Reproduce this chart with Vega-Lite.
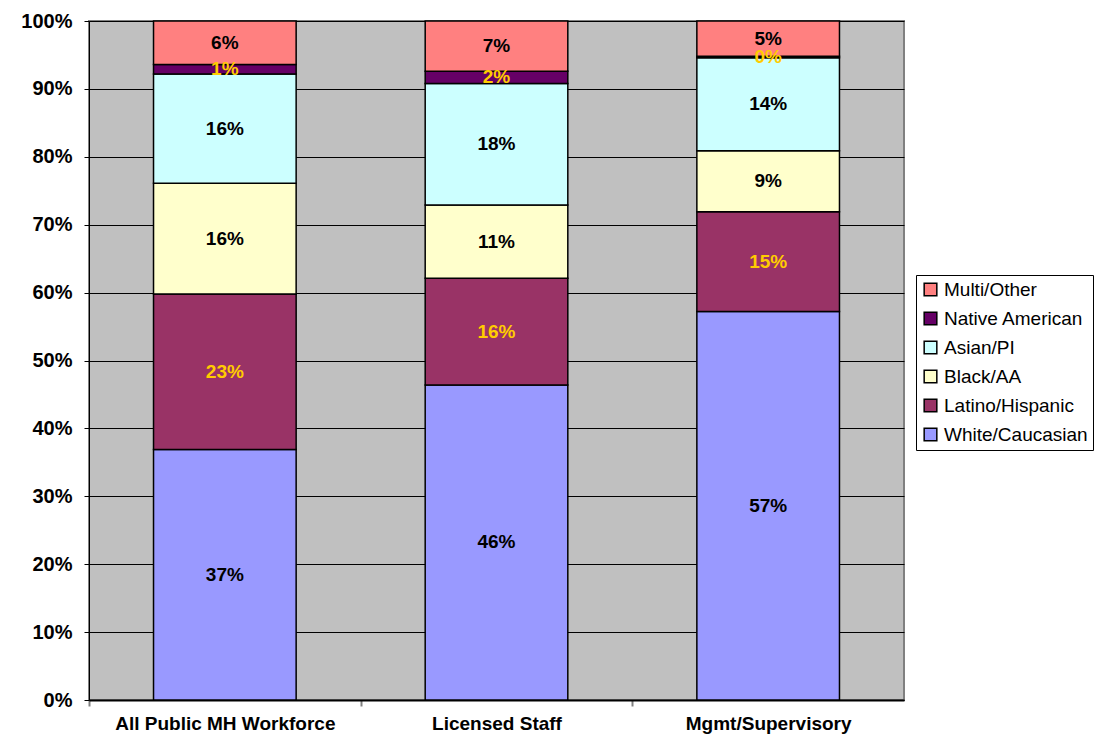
{
  "$schema": "https://vega.github.io/schema/vega-lite/v6.json",
  "width": 815,
  "height": 679,
  "autosize": {"type": "none"},
  "padding": {"left": 89, "top": 21, "right": 198, "bottom": 42},
  "background": "white",
  "config": {
    "view": {"fill": "#C0C0C0", "stroke": "#808080", "strokeWidth": 2},
    "font": "Liberation Sans"
  },
  "data": {
    "values": [
      {"group": "All Public MH Workforce", "race": "White/Caucasian", "k": 1, "v": 0.369},
      {"group": "All Public MH Workforce", "race": "Latino/Hispanic", "k": 2, "v": 0.229},
      {"group": "All Public MH Workforce", "race": "Black/AA", "k": 3, "v": 0.163},
      {"group": "All Public MH Workforce", "race": "Asian/PI", "k": 4, "v": 0.161},
      {"group": "All Public MH Workforce", "race": "Native American", "k": 5, "v": 0.014},
      {"group": "All Public MH Workforce", "race": "Multi/Other", "k": 6, "v": 0.064},
      {"group": "Licensed Staff", "race": "White/Caucasian", "k": 1, "v": 0.464},
      {"group": "Licensed Staff", "race": "Latino/Hispanic", "k": 2, "v": 0.157},
      {"group": "Licensed Staff", "race": "Black/AA", "k": 3, "v": 0.108},
      {"group": "Licensed Staff", "race": "Asian/PI", "k": 4, "v": 0.179},
      {"group": "Licensed Staff", "race": "Native American", "k": 5, "v": 0.018},
      {"group": "Licensed Staff", "race": "Multi/Other", "k": 6, "v": 0.074},
      {"group": "Mgmt/Supervisory", "race": "White/Caucasian", "k": 1, "v": 0.572},
      {"group": "Mgmt/Supervisory", "race": "Latino/Hispanic", "k": 2, "v": 0.147},
      {"group": "Mgmt/Supervisory", "race": "Black/AA", "k": 3, "v": 0.090},
      {"group": "Mgmt/Supervisory", "race": "Asian/PI", "k": 4, "v": 0.137},
      {"group": "Mgmt/Supervisory", "race": "Native American", "k": 5, "v": 0.002},
      {"group": "Mgmt/Supervisory", "race": "Multi/Other", "k": 6, "v": 0.052}
    ]
  },
  "transform": [
    {"stack": "v", "groupby": ["group"], "sort": [{"field": "k", "order": "ascending"}], "as": ["y0", "y1"]},
    {"calculate": "(datum.y0 + datum.y1) / 2", "as": "mid"}
  ],
  "encoding": {
    "x": {
      "field": "group",
      "type": "nominal",
      "sort": null,
      "scale": {"paddingInner": 0.475, "paddingOuter": 0.2375},
      "axis": {
        "title": null,
        "labelAngle": 0,
        "labelFont": "Liberation Sans",
        "labelFontSize": 19,
        "labelFontWeight": "bold",
        "labelColor": "black",
        "labelPadding": 8,
        "labelLimit": 400,
        "labelOverlap": false,
        "tickOffset": -136,
        "labelOffset": 136,
        "tickSize": 6,
        "tickColor": "#808080",
        "tickWidth": 2,
        "domainColor": "black",
        "domainWidth": 2,
        "grid": false
      }
    }
  },
  "layer": [
    {
      "mark": {"type": "bar", "stroke": "black", "strokeWidth": 1.5},
      "encoding": {
        "y": {
          "field": "y0",
          "type": "quantitative",
          "scale": {"domain": [0, 1]},
          "axis": {
            "title": null,
            "format": ".0%",
            "values": [0, 0.1, 0.2, 0.3, 0.4, 0.5, 0.6, 0.7, 0.8, 0.9, 1],
            "labelOverlap": false,
            "labelFont": "Liberation Sans",
            "labelFontSize": 20,
            "labelFontWeight": "bold",
            "labelColor": "black",
            "labelPadding": 12,
            "tickSize": 5,
            "tickColor": "black",
            "domainColor": "black",
            "grid": true,
            "gridColor": "black",
            "gridWidth": 1,
            "gridOpacity": 1
          }
        },
        "y2": {"field": "y1"},
        "color": {
          "field": "race",
          "type": "nominal",
          "scale": {
            "domain": ["Multi/Other", "Native American", "Asian/PI", "Black/AA", "Latino/Hispanic", "White/Caucasian"],
            "range": ["#FF8080", "#660066", "#CCFFFF", "#FFFFCC", "#993366", "#9999FF"]
          },
          "legend": {
            "title": null,
            "orient": "none",
            "legendX": 827,
            "legendY": 254,
            "symbolType": "square",
            "symbolSize": 160,
            "symbolStrokeColor": "black",
            "symbolStrokeWidth": 1.5,
            "symbolOpacity": 1,
            "labelFont": "Liberation Sans",
            "labelFontSize": 19,
            "labelColor": "black",
            "labelLimit": 300,
            "labelOffset": 4,
            "rowPadding": 9,
            "strokeColor": "black",
            "fillColor": "white",
            "padding": 5
          }
        }
      }
    },
    {
      "mark": {"type": "text", "fontSize": 19, "fontWeight": "bold", "font": "Liberation Sans", "baseline": "middle"},
      "encoding": {
        "y": {"field": "mid", "type": "quantitative"},
        "text": {"field": "v", "type": "quantitative", "format": ".0%"},
        "color": {
          "condition": {"test": "datum.race === 'Latino/Hispanic' || datum.race === 'Native American'", "value": "#FFCC00"},
          "value": "black"
        }
      }
    }
  ]
}
